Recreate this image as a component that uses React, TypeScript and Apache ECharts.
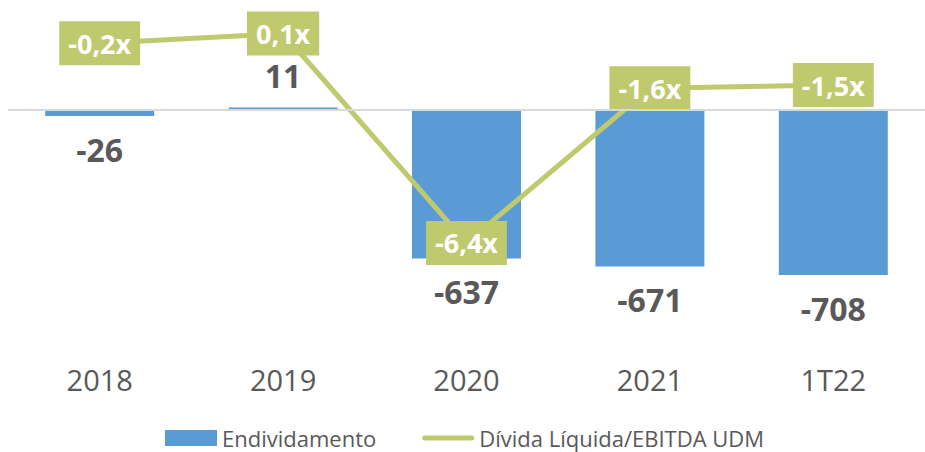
import React, { useEffect, useRef } from "react";
import * as echarts from "echarts";

const categories = ["2018", "2019", "2020", "2021", "1T22"];
const endividamento = [-26, 11, -637, -671, -708];
const dividaEbitda = [-0.2, 0.1, -6.4, -1.6, -1.5];
const barName = "Endividamento";
const lineName = "Dívida Líquida/EBITDA UDM";

const FONT = "'Open Sans', 'Noto Sans', sans-serif";
const BLUE = "#5B9BD5";
const GREEN = "#BFC96E";
const GREY_TEXT = "#595959";

export default function App() {
  const ref = useRef<HTMLDivElement>(null);

  useEffect(() => {
    if (!ref.current) return;
    const chart = echarts.init(ref.current, undefined, { renderer: "svg" });
    chart.setOption({
      animation: false,
      textStyle: { fontFamily: FONT },
      grid: { left: 8, width: 923, top: 0, height: 355, containLabel: false },
      legend: {
        left: 165,
        top: 427,
        padding: 0,
        itemWidth: 52,
        itemHeight: 16,
        itemGap: 46,
        textStyle: { fontSize: 22, color: GREY_TEXT, fontFamily: FONT },
        data: [
          { name: barName, icon: "rect" },
          {
            name: lineName,
            icon: "path://M2.5,0 L49.5,0 A2.5,2.5 0 0 1 49.5,5 L2.5,5 A2.5,2.5 0 0 1 2.5,0 Z",
            itemStyle: { color: GREEN },
          },
        ],
      },
      xAxis: {
        type: "category",
        data: categories,
        axisLine: { show: false, onZero: false },
        axisTick: { show: false },
        axisLabel: { fontSize: 29, color: GREY_TEXT, margin: 10, fontFamily: FONT },
      },
      yAxis: [
        { type: "value", min: -1051, max: 472, show: false, splitLine: { show: false } },
        { type: "value", min: -9.88, max: 1.14, show: false, splitLine: { show: false } },
      ],
      series: [
        {
          name: barName,
          type: "bar",
          yAxisIndex: 0,
          barWidth: 109,
          itemStyle: { color: BLUE },
          data: endividamento.map((v) => ({
            value: v,
            label: { position: v < 0 ? "bottom" : "top", distance: v < 0 ? 17 : 16 },
          })),
          label: {
            show: true,
            fontSize: 32,
            fontWeight: "bold",
            color: GREY_TEXT,
            fontFamily: FONT,
          },
          markLine: {
            silent: true,
            symbol: "none",
            label: { show: false },
            lineStyle: { color: "#D9D9D9", width: 2, type: "solid" },
            data: [{ yAxis: 0 }],
          },
          z: 2,
        },
        {
          name: lineName,
          type: "line",
          yAxisIndex: 1,
          symbol: "circle",
          symbolSize: 1,
          showSymbol: true,
          lineStyle: { color: GREEN, width: 5 },
          itemStyle: { color: GREEN },
          data: dividaEbitda,
          label: {
            show: true,
            position: "inside",
            formatter: (p: any) => String(p.value).replace(".", ",") + "x",
            fontSize: 27,
            fontWeight: "bold",
            color: "#FFFFFF",
            backgroundColor: GREEN,
            padding: [9, 9, 8, 9],
            fontFamily: FONT,
          },
          z: 3,
        },
      ],
    });
    return () => chart.dispose();
  }, []);

  return (
    <div
      ref={ref}
      style={{ position: "fixed", left: 0, top: 0, width: 925, height: 452, background: "#fff" }}
    />
  );
}
